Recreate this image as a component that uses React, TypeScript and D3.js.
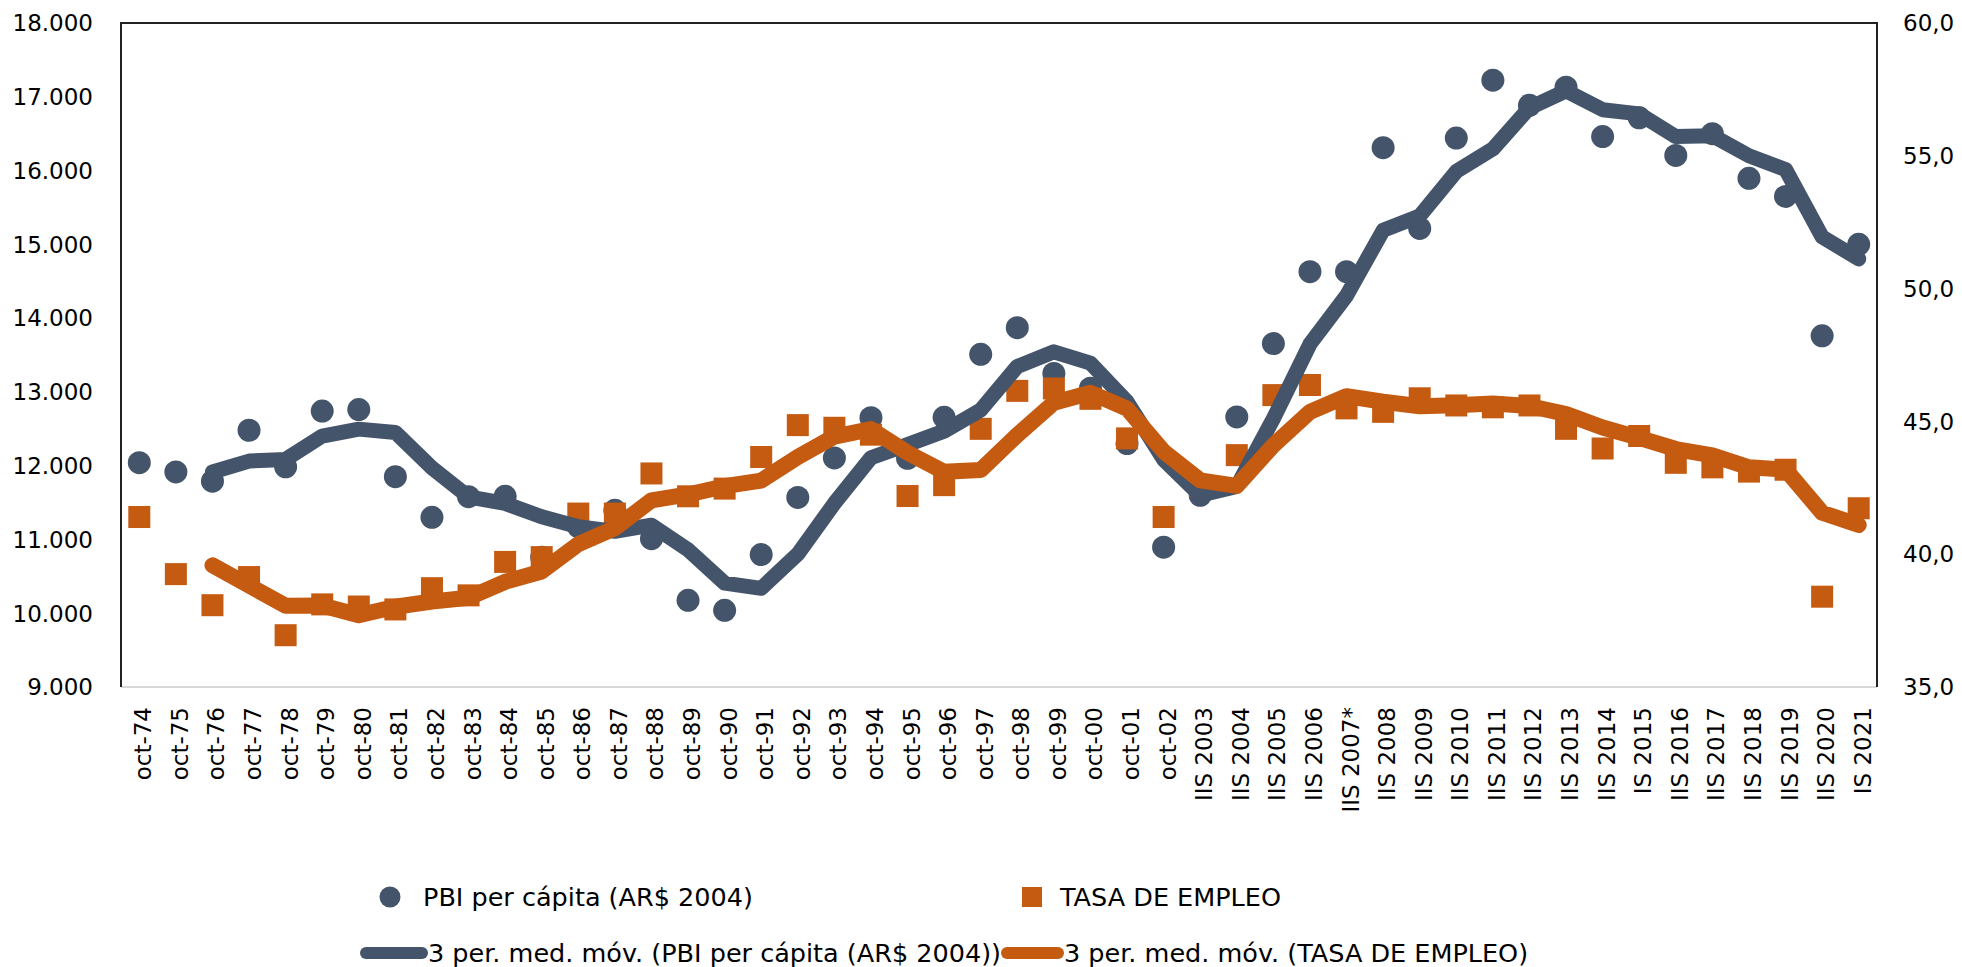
import React from 'react';
import * as d3 from 'd3';

const categories = [
  'oct-74','oct-75','oct-76','oct-77','oct-78','oct-79','oct-80','oct-81','oct-82','oct-83',
  'oct-84','oct-85','oct-86','oct-87','oct-88','oct-89','oct-90','oct-91','oct-92','oct-93',
  'oct-94','oct-95','oct-96','oct-97','oct-98','oct-99','oct-00','oct-01','oct-02',
  'IIS 2003','IIS 2004','IIS 2005','IIS 2006','IIS 2007*','IIS 2008','IIS 2009','IIS 2010',
  'IIS 2011','IIS 2012','IIS 2013','IIS 2014','IS 2015','IIS 2016','IIS 2017','IIS 2018',
  'IIS 2019','IIS 2020','IS 2021'
];

// PBI per cápita (AR$ 2004) - left axis
const pbi = [
  12040, 11915, 11790, 12480, 11985, 12740, 12760, 11850, 11300, 11580,
  11585, 10760, 11175, 11395, 11010, 10175, 10040, 10795, 11570, 12105,
  12650, 12100, 12655, 13510, 13870, 13250, 13050, 12300, 10895,
  11598, 12660, 13655, 14630, 14630, 16310, 15215, 16440,
  17225, 16885, 17130, 16460, 16715, 16205, 16500, 15895,
  15650, 13760, 15000
];

// TASA DE EMPLEO - right axis
const tasa = [
  41.40, 39.25, 38.08, 39.14, 36.95, 38.11, 38.03, 37.92, 38.72, 38.45,
  39.71, 39.89, 41.53, 41.53, 43.04, 42.18, 42.47, 43.66, 44.86, 44.76,
  44.50, 42.19, 42.60, 44.72, 46.15, 46.24, 45.85, 44.36, 41.40,
  42.58, 43.73, 45.99, 46.37, 45.49, 45.36, 45.87, 45.60,
  45.53, 45.60, 44.72, 43.98, 44.45, 43.44, 43.27, 43.11,
  43.18, 38.40, 41.73
];

// 3 per. med. móv. (PBI per cápita) - read from the trendline
const pbiMA = [
  null, null, 11915, 12062, 12085, 12402, 12495, 12450, 11970, 11577,
  11488, 11308, 11173, 11110, 11193, 10860, 10408, 10337, 10802, 11490,
  12108, 12285, 12468, 12755, 13345, 13543, 13390, 12867, 12082,
  11598, 11718, 12638, 13648, 14305, 15190, 15385, 15988,
  16293, 16850, 17080, 16825, 16768, 16460, 16473, 16200,
  16015, 15102, 14803
];

// 3 per. med. móv. (TASA DE EMPLEO) - read from the trendline
const tasaMA = [
  null, null, 39.58, 38.82, 38.06, 38.07, 37.70, 38.02, 38.22, 38.36,
  38.96, 39.35, 40.38, 40.98, 42.03, 42.25, 42.56, 42.77, 43.66, 44.43,
  44.71, 43.82, 43.10, 43.17, 44.49, 45.70, 46.08, 45.48, 43.87,
  42.78, 42.57, 44.10, 45.36, 45.95, 45.74, 45.57, 45.61,
  45.67, 45.58, 45.28, 44.77, 44.38, 43.96, 43.72, 43.27,
  43.19, 41.56, 41.10
];

const leftTicks = [9000, 10000, 11000, 12000, 13000, 14000, 15000, 16000, 17000, 18000];
const rightTicks = [35, 40, 45, 50, 55, 60];

const legendLabels = [
  'PBI per cápita (AR$ 2004)',
  'TASA DE EMPLEO',
  '3 per. med. móv. (PBI per cápita (AR$ 2004))',
  '3 per. med. móv. (TASA DE EMPLEO)'
];

const BLUE = '#44546A';
const ORANGE = '#C55A11';
const FONT = '"DejaVu Sans", Verdana, sans-serif';

const W = 1962;
const H = 967;
const L = 121, R = 1877, T = 23, B = 687;

export default function App() {
  React.useEffect(() => {
    document.body.style.margin = '0';
    document.body.style.overflow = 'hidden';
  }, []);

  const x = d3.scalePoint<string>().domain(categories).range([L, R]).padding(0.5);
  const yL = d3.scaleLinear().domain([9000, 18000]).range([B, T]);
  const yR = d3.scaleLinear().domain([35, 60]).range([B, T]);

  const fmtL = (v: number) => d3.format(',')(v).replace(/,/g, '.');
  const fmtR = (v: number) => d3.format('.1f')(v).replace('.', ',');

  const linePbi = d3.line<number | null>()
    .defined(d => d != null)
    .x((_, i) => x(categories[i]) as number)
    .y(d => yL(d as number));
  const lineTasa = d3.line<number | null>()
    .defined(d => d != null)
    .x((_, i) => x(categories[i]) as number)
    .y(d => yR(d as number));

  const sq = 22;

  return (
    <svg width={W} height={H} style={{ position: 'absolute', left: 0, top: 0, background: '#fff' }}
      fontFamily={FONT}>
      <rect x={0} y={0} width={W} height={H} fill="#fff" />
      {/* frame */}
      <line x1={L} y1={B} x2={R} y2={B} stroke="#D9D9D9" strokeWidth={2} />
      <path d={`M${L},${B}V${T}H${R}V${B}`} fill="none" stroke="#222" strokeWidth={2} />

      {/* left ticks */}
      {leftTicks.map(t => (
        <text key={'l' + t} x={93} y={yL(t)} dy="0.36em" textAnchor="end" fontSize={23} fill="#000">
          {fmtL(t)}
        </text>
      ))}
      {/* right ticks */}
      {rightTicks.map(t => (
        <text key={'r' + t} x={1903} y={yR(t)} dy="0.36em" textAnchor="start" fontSize={23} fill="#000">
          {fmtR(t)}
        </text>
      ))}
      {/* x labels */}
      {categories.map(c => (
        <text key={'x' + c} transform={`translate(${(x(c) as number) + 12},707) rotate(-90)`}
          textAnchor="end" fontSize={23} fill="#000">
          {c}
        </text>
      ))}

      {/* PBI markers */}
      {pbi.map((v, i) => (
        <circle key={'p' + i} cx={x(categories[i]) as number} cy={yL(v)} r={11.5} fill={BLUE} />
      ))}
      {/* TASA markers */}
      {tasa.map((v, i) => (
        <rect key={'t' + i} x={(x(categories[i]) as number) - sq / 2} y={yR(v) - sq / 2}
          width={sq} height={sq} fill={ORANGE} />
      ))}
      {/* moving averages */}
      <path d={linePbi(pbiMA) || ''} fill="none" stroke={BLUE} strokeWidth={15}
        strokeLinecap="round" strokeLinejoin="round" />
      <path d={lineTasa(tasaMA) || ''} fill="none" stroke={ORANGE} strokeWidth={16}
        strokeLinecap="round" strokeLinejoin="round" />

      {/* legend */}
      <g fontSize={25.5} fill="#000">
        <circle cx={390} cy={897} r={10.5} fill={BLUE} />
        <text x={423} y={897} dy="0.36em">{legendLabels[0]}</text>
        <rect x={1022} y={887} width={20} height={20} fill={ORANGE} />
        <text x={1060} y={897} dy="0.36em">{legendLabels[1]}</text>
        <line x1={366} y1={953} x2={422} y2={953} stroke={BLUE} strokeWidth={12} strokeLinecap="round" />
        <text x={428} y={953} dy="0.36em">{legendLabels[2]}</text>
        <line x1={1007} y1={953} x2={1058} y2={953} stroke={ORANGE} strokeWidth={12} strokeLinecap="round" />
        <text x={1064} y={953} dy="0.36em">{legendLabels[3]}</text>
      </g>
    </svg>
  );
}
